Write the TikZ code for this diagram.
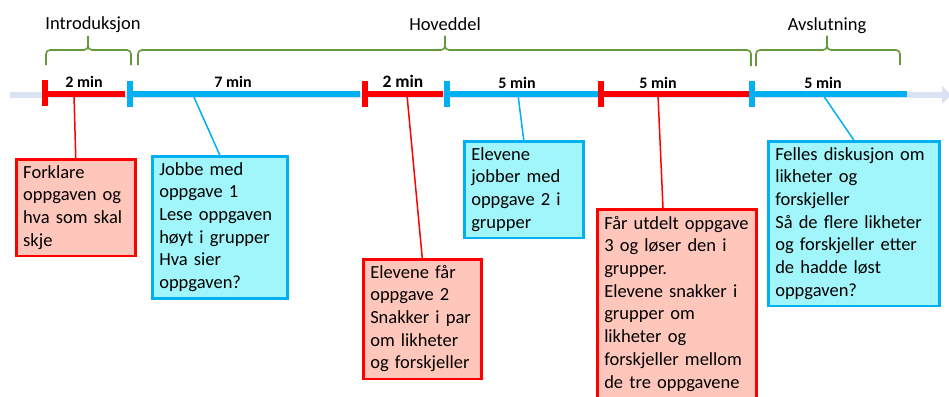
\documentclass[tikz,border=0pt]{standalone}
\usepackage{fontspec}
\setmainfont{Carlito}
\usetikzlibrary{arrows.meta}
\definecolor{tlred}{RGB}{255,0,0}
\definecolor{tlblue}{RGB}{0,176,240}
\definecolor{tlgrey}{RGB}{218,227,243}
\definecolor{tlgreen}{RGB}{102,153,61}
\definecolor{redfill}{RGB}{255,199,188}
\definecolor{bluefill}{RGB}{160,246,250}

\begin{document}
\begin{tikzpicture}[x=1pt,y=-1pt,
    seg/.style={line width=6.5pt},
    tick/.style={line width=6pt},
    brace/.style={tlgreen,line width=1.6pt,rounded corners=4pt},
    minlabel/.style={font=\bfseries\fontsize{16}{19}\selectfont,anchor=base},
    partlabel/.style={font=\fontsize{18.5}{22}\selectfont,anchor=base},
    textbox/.style={anchor=north west,line width=2.5pt,align=left,inner xsep=7pt,inner ysep=3pt,
      font=\fontsize{18.5}{22.7}\selectfont,execute at begin node=\strut,execute at end node=\strut},
    redbox/.style={textbox,draw=tlred,fill=redfill},
    bluebox/.style={textbox,draw=tlblue,fill=bluefill},
    redline/.style={tlred,line width=1.5pt},
    blueline/.style={tlblue,line width=1.5pt}]

      \useasboundingbox (0,0) rectangle (949,396);
      \draw[tlgrey,line width=6pt,-{Triangle[width=18pt,length=9pt]}] (10,95) -- (951,95); % time axis

      \draw[seg,tlred] (45,94) -- (125,94); % introduksjon
      \draw[tick,tlred] (45,80) -- (45,106);
      \draw[seg,tlblue] (130,94) -- (360,94); % oppgave 1
      \draw[tick,tlblue] (130,81) -- (130,107);
      \draw[seg,tlred] (365,94) -- (443,94); % oppgave 2 i par
      \draw[tick,tlred] (365,81) -- (365,107);
      \draw[seg,tlblue] (447,94) -- (598,94); % oppgave 2 i grupper
      \draw[tick,tlblue] (447,81) -- (447,107);
      \draw[seg,tlred] (601,94) -- (750,94); % oppgave 3
      \draw[tick,tlred] (601,81) -- (601,107);
      \draw[seg,tlblue] (752,94) -- (907,94); % avslutning
      \draw[tick,tlblue] (752,81) -- (752,107);

      \node[minlabel] (min1) at (84,87) {2 min};
      \node[minlabel] (min2) at (233,87) {7 min};
      \node[minlabel,font=\bfseries\fontsize{17.5}{20}\selectfont] (min3) at (403,87) {2 min};
      \node[minlabel] (min4) at (517,88) {5 min};
      \node[minlabel] (min5) at (658,88) {5 min};
      \node[minlabel] (min6) at (823,88) {5 min};

      \draw[brace] (46,65) -- (46,50) -- (88,50) -- (88,36); % introduksjon brace
      \draw[brace] (88,36) -- (88,50) -- (131,50) -- (131,65);
      \draw[brace] (138,65) -- (138,50) -- (445,50) -- (445,36); % hoveddel brace
      \draw[brace] (445,36) -- (445,50) -- (751,50) -- (751,66);
      \draw[brace] (756,66) -- (756,50) -- (827,50) -- (827,36); % avslutning brace
      \draw[brace] (827,36) -- (827,50) -- (900,50) -- (900,65);

      \node[partlabel] (intro) at (93,30) {Introduksjon};
      \node[partlabel] (hoved) at (445,31) {Hoveddel};
      \node[partlabel] (avslut) at (827,31) {Avslutning};

      \node[redbox,text width=105pt] (forklare) at (15,158) {Forklare\\oppgaven og\\hva som skal\\skje};
      \node[bluebox,text width=121pt] (jobbe) at (151,155) {Jobbe med\\oppgave 1\\Lese oppgaven\\høyt i grupper\\Hva sier\\oppgaven?};
      \node[redbox,text width=104pt] (faar) at (362,258) {Elevene får\\oppgave 2\\Snakker i par\\om likheter\\og forskjeller};
      \node[bluebox,text width=105pt] (jobber) at (463,140) {Elevene\\jobber med\\oppgave 2 i\\grupper};
      \node[redbox,text width=145pt,inner ysep=4pt,execute at end node={\strut\\\strut}] (utdelt) at (596,208)
        {Får utdelt oppgave\\3 og løser den i\\grupper.\\Elevene snakker i\\grupper om\\likheter og\\forskjeller mellom\\de tre oppgavene};
      \node[bluebox,text width=157pt] (felles) at (767,140) {Felles diskusjon om\\likheter og\\forskjeller\\Så de flere likheter\\og forskjeller etter\\de hadde løst\\oppgaven?};

      \coordinate (t1) at (74,95);
      \coordinate (t2) at (193,95);
      \coordinate (t3) at (407,95);
      \coordinate (t4) at (518,95);
      \coordinate (t5) at (658,95);
      \coordinate (t6) at (823,95);

      \draw[redline] (forklare.north) -- (t1);
      \draw[blueline] (jobbe.north) -- (t2);
      \draw[redline] (faar.north) -- (t3);
      \draw[blueline] (jobber.north) -- (t4);
      \draw[redline] (utdelt.north west) ++(67,0) -- (t5);
      \draw[blueline] (felles.north) -- (t6);
    \end{tikzpicture}
\end{document}
